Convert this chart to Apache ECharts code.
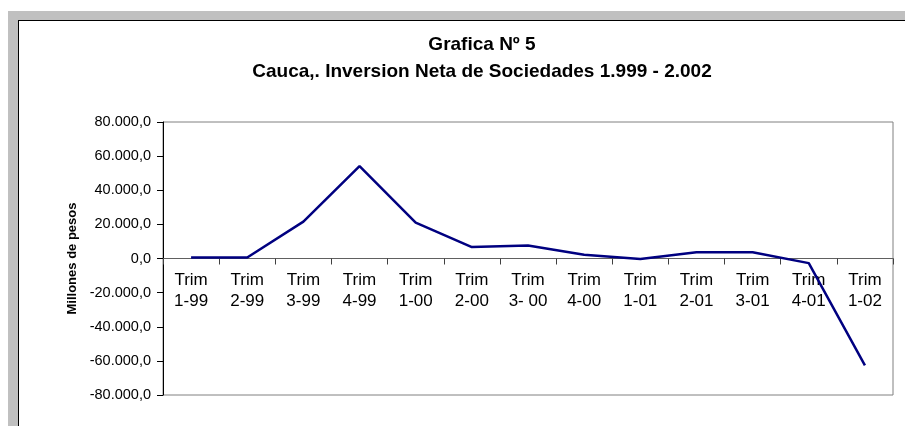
<!DOCTYPE html>
<html>
<head>
<meta charset="utf-8">
<script src="https://cdn.jsdelivr.net/npm/echarts@6/dist/echarts.min.js"></script>
<style>
  html, body { margin: 0; padding: 0; background: #fff; }
  #marco { position: absolute; left: 8px; top: 11px; width: 897px; height: 415px; background: #c0c0c0; }
  #hoja { position: absolute; left: 18px; top: 20px; width: 900px; height: 420px; background: #fff; border-left: 1.5px solid #000; border-top: 1.5px solid #000; }
  #grafica { position: absolute; left: 0; top: 0; width: 905px; height: 426px; }
</style>
</head>
<body>
<div id="marco"></div>
<div id="hoja"></div>
<div id="grafica"></div>
<script>
// trimestres y valores (millones de pesos)
const trimestres = ["1-99", "2-99", "3-99", "4-99", "1-00", "2-00", "3- 00", "4-00", "1-01", "2-01", "3-01", "4-01", "1-02"];
const inversionNeta = [600, 600, 21600, 54200, 21000, 6700, 7600, 2200, -350, 3700, 3700, -2700, -62600];

function formatoPesos(v) {
  const signo = v < 0 ? "-" : "";
  const miles = Math.abs(v).toFixed(0).replace(/\B(?=(\d{3})+(?!\d))/g, ".");
  return signo + miles + ",0";
}

const chart = echarts.init(document.getElementById("grafica"));

const altoGrid = 426 - 122 - 31;

const option = {
  backgroundColor: "transparent",
  animation: false,
  textStyle: { fontFamily: "Arial, Liberation Sans, sans-serif" },
  graphic: [
    {
      type: "text", x: 482, y: 45,
      style: { text: "Grafica Nº 5", textAlign: "center", textVerticalAlign: "middle",
        font: "bold 19px Arial, 'Liberation Sans', sans-serif", fill: "#000" }
    },
    {
      type: "text", x: 482, y: 72,
      style: { text: "Cauca,. Inversion Neta de Sociedades 1.999 - 2.002", textAlign: "center", textVerticalAlign: "middle",
        font: "bold 19px Arial, 'Liberation Sans', sans-serif", fill: "#000" }
    }
  ],
  grid: {
    left: 163, right: 12, top: 122, bottom: 31,
    outerBoundsMode: "none",
    show: true, borderColor: "#808080", borderWidth: 1, backgroundColor: "transparent"
  },
  xAxis: {
    type: "category",
    data: trimestres,
    boundaryGap: true,
    // eje en el cero: se sube el eje a mitad del grid
    offset: -altoGrid / 2,
    axisLine: { onZero: false, lineStyle: { color: "#606060", width: 1 } },
    axisTick: { show: true, length: 6, inside: false, lineStyle: { color: "#404040" } },
    axisLabel: {
      formatter: v => "Trim\n" + v,
      color: "#000", fontSize: 17, lineHeight: 21, margin: 11, interval: 0
    },
    splitLine: { show: false }
  },
  yAxis: {
    type: "value",
    min: -80000, max: 80000, interval: 20000,
    name: "Millones de pesos",
    nameLocation: "middle",
    nameRotate: 90,
    nameGap: 84,
    nameTextStyle: { fontWeight: "bold", fontSize: 13, color: "#000" },
    axisLine: { show: true, lineStyle: { color: "#000", width: 1 } },
    axisTick: { show: true, length: 6, lineStyle: { color: "#000" } },
    axisLabel: { formatter: formatoPesos, color: "#000", fontSize: 14.5, margin: 12 },
    splitLine: { show: false }
  },
  series: [{
    type: "line",
    data: inversionNeta,
    showSymbol: false,
    symbol: "none",
    lineStyle: { color: "#000080", width: 2.5 },
    itemStyle: { color: "#000080" }
  }]
};

chart.setOption(option);
</script>
</body>
</html>
